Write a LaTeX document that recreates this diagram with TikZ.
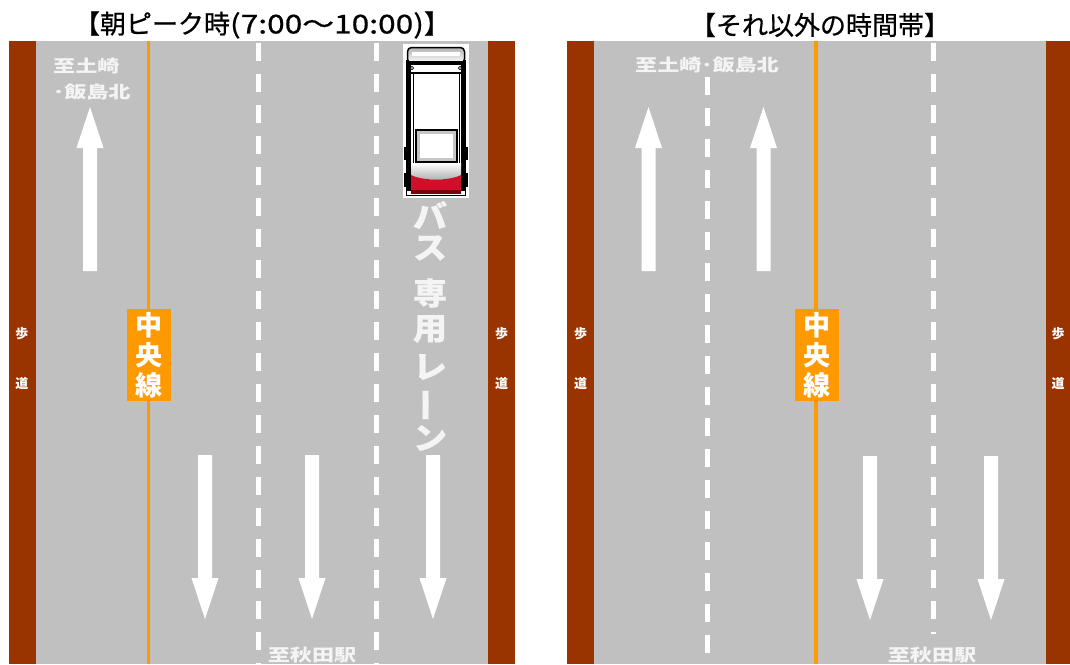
\documentclass[tikz,border=0pt]{standalone}
\usepackage{fontspec}
\setmainfont{Noto Sans CJK JP}
\newfontfamily\jp{Noto Sans CJK JP}
\newfontfamily\jphead[FakeBold=0.6]{Noto Sans CJK JP}
\newfontfamily\jpheadwide[FakeBold=0.6,FakeStretch=1.22]{Noto Sans CJK JP}
\newfontfamily\jpwide[FakeStretch=1.3]{Noto Sans CJK JP}
\newfontfamily\jpbus[FakeStretch=1.1,FakeBold=0.5]{Noto Sans CJK JP}

\definecolor{roadgrey}{HTML}{C0C0C0}
\definecolor{kerbbrown}{HTML}{993300}
\definecolor{lineorange}{HTML}{FF9900}
\definecolor{markwhite}{HTML}{F4F4F4}
\definecolor{tailred}{HTML}{D0102A}
\definecolor{taildark}{HTML}{7A0010}

\tikzset{
  asphalt/.style={fill=roadgrey},
  footway/.style={fill=kerbbrown},
  lanedash/.style={draw=white, line width=5pt, dash pattern=on 18pt off 13pt},
  centreline/.style={draw=lineorange, line width=3.5pt},
  centrebox/.style={fill=lineorange, text=white, minimum width=44pt, minimum height=92pt,
    inner sep=0pt, align=center, font=\jp\bfseries\fontsize{27}{30}\selectfont},
  dirlabel/.style={text=markwhite, inner sep=0pt, font=\jpwide\bfseries\fontsize{17}{20}\selectfont},
  walklabel/.style={text=white, inner sep=0pt, font=\jp\bfseries\fontsize{13}{15}\selectfont},
  buslabel/.style={text=markwhite, inner sep=0pt, font=\jpbus\bfseries\fontsize{31}{32}\selectfont},
  heading/.style={inner sep=0pt, text=black, font=\jphead\fontsize{26}{28}\selectfont},
  lanearrow/.pic={
    \fill[white] (-7,0) -- (-7,-123) -- (-13.5,-123) -- (0,-164)
      -- (13.5,-123) -- (7,-123) -- (7,0) -- cycle;
  }
}

\begin{document}
\begin{tikzpicture}[x=1pt,y=-1pt]
\useasboundingbox (0,0) rectangle (1070,664);
\fill[white] (0,0) rectangle (1070,664);

% ---------- titles ----------
\node[heading] (titleL) at (262,25) {【朝ピーク時{\jpheadwide(7:00〜10:00)}】};
\node[heading] (titleR) at (820,25) {【それ以外の時間帯】};

% ---------- left road: morning peak ----------
\fill[asphalt] (36,41) rectangle (488,664);
\fill[footway] (9,41) rectangle (36,664);
\fill[footway] (488,41) rectangle (515,664);

\draw[lanedash] (258.5,43) -- (258.5,664);
\draw[lanedash] (376,43) -- (376,664);
\draw[centreline] (148.5,41) -- (148.5,664);

\node[centrebox] (centreL) at (149,355) {中\\央\\線};

\pic at (90,271) {lanearrow};
\pic[rotate=180] at (205,455) {lanearrow};
\pic[rotate=180] at (312,455) {lanearrow};
\pic[rotate=180] at (433,455) {lanearrow};

\node[dirlabel, anchor=west] (northL1) at (53,66) {至土崎};
\node[dirlabel, anchor=west] (northL2) at (53,92) {･飯島北};
\node[dirlabel] (southL) at (312,655) {至秋田駅};

\node[walklabel] (walkL1) at (22,334) {歩};
\node[walklabel] (walkL2) at (22,383) {道};
\node[walklabel] (walkL3) at (501.5,334) {歩};
\node[walklabel] (walkL4) at (501.5,383) {道};

% bus-lane lettering, set vertically
\node[buslabel] (bus1) at (430,215) {バ};
\node[buslabel] (bus2) at (430,248) {ス};
\node[buslabel] (bus3) at (430,293) {専};
\node[buslabel] (bus4) at (430,329) {用};
\node[buslabel] (bus5) at (430,367) {レ};
\node[buslabel, rotate=90] (bus6) at (430,405) {ー};
\node[buslabel] (bus7) at (430,438) {ン};

% ---------- bus seen from above ----------
\fill[white] (403,44) rectangle (469,198);
\fill[black] (404,147) rectangle (408,160);
\fill[black] (404,173) rectangle (408,187);
\fill[black] (464,147) rectangle (468,160);
\fill[black] (464,173) rectangle (468,187);
\fill[black] (406,60) rectangle (411,191);
\fill[black] (461,60) rectangle (466,191);
\draw[line width=1.5pt, rounded corners=4pt, top color=gray!60, bottom color=white]
  (407.5,63) rectangle (464.5,47.5);
\fill[white] (412,52) rectangle (460,56);
\fill[black] (406,61) rectangle (466,64.5);
\draw[line width=1.2pt] (411,73) -- (461,73);
\filldraw[fill=gray!50, draw=black, line width=0.6pt] (412,68) circle (1.8);
\filldraw[fill=gray!50, draw=black, line width=0.6pt] (460,68) circle (1.8);
\draw[line width=0.8pt] (413,73) -- (413,176);
\draw[line width=0.8pt] (459,73) -- (459,176);
\fill[black] (415,129) rectangle (458,163);
\fill[gray!45] (417,131) rectangle (456,161);
\fill[white] (420,134) rectangle (453,158);
\shade[top color=white, bottom color=gray!55] (411,163) rectangle (461,178);
\fill[tailred] (411,175) .. controls (422,181) and (450,181) .. (461,175)
  -- (461,192) -- (411,192) -- cycle;
\fill[taildark] (411,190) rectangle (461,194);
\draw[line width=1.5pt] (406.5,186) -- (406.5,195.5) -- (465.5,195.5) -- (465.5,186);

% ---------- right road: other hours ----------
\fill[asphalt] (594,41) rectangle (1046,664);
\fill[footway] (567,41) rectangle (594,664);
\fill[footway] (1046,41) rectangle (1070,664);

\draw[lanedash] (707,77) -- (707,664);
\draw[lanedash] (933,43) -- (933,634);
\draw[centreline] (816,41) -- (816,664);

\node[centrebox] (centreR) at (817,355) {中\\央\\線};

\pic at (648.5,271) {lanearrow};
\pic at (763.5,271) {lanearrow};
\pic[rotate=180] at (870,456) {lanearrow};
\pic[rotate=180] at (991,456) {lanearrow};

\node[dirlabel] (northR) at (707,65) {至土崎･飯島北};
\node[dirlabel] (southR) at (932,655) {至秋田駅};

\node[walklabel] (walkR1) at (580.5,334) {歩};
\node[walklabel] (walkR2) at (580.5,383) {道};
\node[walklabel] (walkR3) at (1058,334) {歩};
\node[walklabel] (walkR4) at (1058,383) {道};
\end{tikzpicture}
\end{document}
